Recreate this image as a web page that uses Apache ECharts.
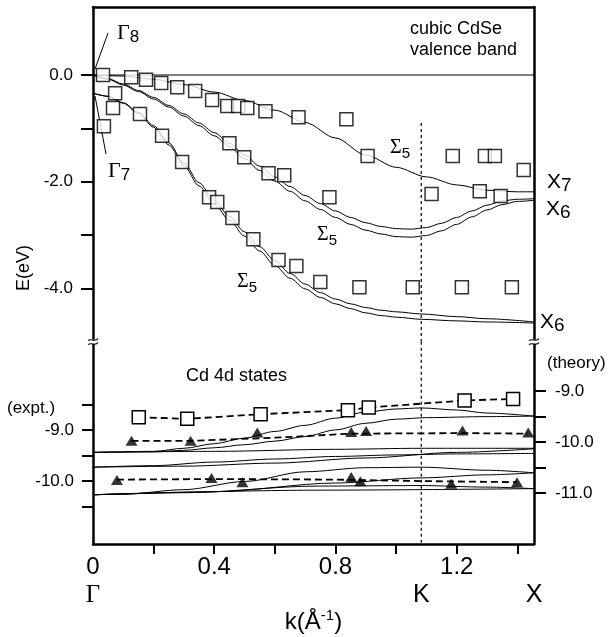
<!DOCTYPE html>
<html><head><meta charset="utf-8">
<script src="https://cdn.jsdelivr.net/npm/echarts@6/dist/echarts.min.js"></script>
<style>html,body{margin:0;padding:0;background:#fff}#c{width:612px;height:637px}</style>
</head><body><div id="c"></div>
<script>
// ---------- axis ranges / ticks ----------
const K_MAX = 1.455;             // X point
const K_K = 1.083;               // K point
const xTickValues = [0.2, 0.4, 0.6, 0.8, 1.0, 1.2, 1.4];
const xLabelValues = [0, 0.4, 0.8, 1.2];
const symPointK = [0, K_K, K_MAX];
const symPointNames = ['Γ', 'K', 'X'];
const yTopRange = [-5.0, 1.275];
const yTopTicks = [0, -1, -2, -3, -4];
const yTopLabels = [0, -2, -4];
const yExptRange = [-11.231, -7.270];
const yExptTicks = [-8.5, -9, -9.5, -10, -10.5];
const yExptLabels = [-9, -10];
const yTheoRange = [-11.994, -8.033];
const yTheoTicks = [-9, -9.5, -10, -10.5, -11];
const yTheoLabels = [-9, -10, -11];

// ---------- valence band theory (k, E) ----------
const bandHH = [[0,0],[0.1,-0.02],[0.2,-0.08],[0.3,-0.18],[0.4,-0.32],[0.5,-0.48],[0.6,-0.66],[0.7,-0.89],[0.8,-1.18],[0.9,-1.50],[1.0,-1.73],[1.1,-1.91],[1.2,-2.06],[1.3,-2.16],[1.4,-2.19],[1.455,-2.19]];
const bandLH1 = [[0,0],[0.05,-0.07],[0.1,-0.17],[0.15,-0.29],[0.2,-0.42],[0.25,-0.57],[0.3,-0.73],[0.35,-0.90],[0.4,-1.08],[0.45,-1.28],[0.5,-1.50],[0.55,-1.71],[0.6,-1.91],[0.65,-2.09],[0.7,-2.26],[0.75,-2.41],[0.8,-2.55],[0.85,-2.67],[0.9,-2.77],[0.95,-2.84],[1.0,-2.88],[1.05,-2.89],[1.1,-2.86],[1.15,-2.78],[1.2,-2.67],[1.25,-2.55],[1.3,-2.44],[1.35,-2.36],[1.4,-2.33],[1.455,-2.32]];
const bandLH2 = [[0,0],[0.05,-0.08],[0.1,-0.19],[0.15,-0.31],[0.2,-0.45],[0.25,-0.60],[0.3,-0.77],[0.35,-0.95],[0.4,-1.14],[0.45,-1.34],[0.5,-1.57],[0.55,-1.79],[0.6,-1.99],[0.65,-2.18],[0.7,-2.36],[0.75,-2.52],[0.8,-2.67],[0.85,-2.80],[0.9,-2.91],[0.95,-2.98],[1.0,-3.03],[1.05,-3.04],[1.1,-3.01],[1.15,-2.92],[1.2,-2.80],[1.25,-2.66],[1.3,-2.53],[1.35,-2.43],[1.4,-2.37],[1.455,-2.35]];
const bandSO1 = [[0,-0.34],[0.05,-0.40],[0.1,-0.52],[0.15,-0.70],[0.2,-0.95],[0.25,-1.27],[0.3,-1.65],[0.35,-2.02],[0.4,-2.35],[0.45,-2.65],[0.5,-2.94],[0.55,-3.22],[0.6,-3.48],[0.65,-3.72],[0.7,-3.92],[0.75,-4.08],[0.8,-4.20],[0.85,-4.29],[0.9,-4.36],[0.95,-4.41],[1.0,-4.44],[1.083,-4.48],[1.2,-4.53],[1.3,-4.57],[1.455,-4.63]];
const bandSO2 = [[0,-0.34],[0.05,-0.40],[0.1,-0.53],[0.15,-0.72],[0.2,-0.98],[0.25,-1.31],[0.3,-1.70],[0.35,-2.08],[0.4,-2.42],[0.45,-2.72],[0.5,-3.02],[0.55,-3.30],[0.6,-3.57],[0.65,-3.81],[0.7,-4.01],[0.75,-4.17],[0.8,-4.29],[0.85,-4.38],[0.9,-4.46],[0.95,-4.51],[1.0,-4.54],[1.083,-4.58],[1.2,-4.61],[1.3,-4.63],[1.455,-4.65]];
const zeroLine = [[0,0],[K_MAX,0]];
const kLineTop = [[K_K,-0.9],[K_K,-5.0]];

// ---------- valence band experiment ----------
const sqUpK = [0.033,0.073,0.066,0.036,0.126,0.175,0.225,0.278,0.337,0.393,0.443,0.479,0.509,0.569,0.678,0.836,0.906,1.187,1.293,1.326,1.421,0.155,0.228,0.294,0.383,0.410,0.460,0.529,0.612,0.671,0.750,0.879,1.055,1.217,1.382,0.450,0.499,0.579,0.631,0.780,1.117,1.276,1.345];
const sqUpE = [0.00,-0.34,-0.62,-0.96,-0.04,-0.09,-0.15,-0.23,-0.30,-0.47,-0.58,-0.58,-0.62,-0.68,-0.79,-0.83,-1.52,-1.52,-1.52,-1.52,-1.78,-0.73,-1.14,-1.63,-2.29,-2.38,-2.68,-3.08,-3.47,-3.58,-3.88,-3.98,-3.98,-3.98,-3.98,-1.28,-1.54,-1.84,-1.88,-2.29,-2.23,-2.18,-2.27];

// ---------- Cd 4d theory (theory axis) ----------
const dT1 = [[0,-10.20],[0.2,-10.18],[0.3,-10.12],[0.4,-10.03],[0.5,-9.92],[0.6,-9.79],[0.7,-9.67],[0.8,-9.53],[0.9,-9.41],[1.0,-9.35],[1.083,-9.33],[1.2,-9.37],[1.3,-9.43],[1.455,-9.49]];
const dT2 = [[0,-10.20],[0.2,-10.19],[0.3,-10.16],[0.4,-10.11],[0.5,-10.05],[0.6,-9.98],[0.7,-9.89],[0.8,-9.76],[0.9,-9.63],[1.0,-9.55],[1.1,-9.52],[1.3,-9.50],[1.455,-9.49]];
const dF1 = [[0,-10.20],[0.4,-10.18],[0.8,-10.14],[1.083,-10.12],[1.455,-10.12]];
const dF2 = [[0,-10.49],[0.2,-10.46],[0.4,-10.39],[0.6,-10.33],[0.8,-10.28],[1.0,-10.25],[1.2,-10.23],[1.455,-10.22]];
const dF3 = [[0,-10.49],[0.3,-10.47],[0.6,-10.41],[0.9,-10.31],[1.2,-10.20],[1.455,-10.13]];
const dB1 = [[0,-11.03],[0.1,-11.02],[0.3,-10.93],[0.5,-10.77],[0.7,-10.58],[0.9,-10.50],[1.083,-10.49],[1.3,-10.55],[1.455,-10.60]];
const dB4 = [[0,-11.03],[0.4,-10.97],[0.8,-10.80],[1.083,-10.70],[1.3,-10.64],[1.455,-10.60]];
const dB2 = [[0,-11.03],[0.3,-10.99],[0.74,-10.86],[1.083,-10.85],[1.3,-10.88],[1.455,-10.91]];
const dB3 = [[0,-11.03],[0.74,-10.94],[1.455,-10.91]];

// ---------- Cd 4d experiment (expt axis) ----------
const sqLoK = [0.151,0.311,0.553,0.841,0.910,1.226,1.386];
const sqLoE = [-8.75,-8.78,-8.69,-8.61,-8.56,-8.42,-8.39];
const triUpK = [0.127,0.322,0.542,0.852,0.901,1.219,1.436];
const triUpE = [-9.21,-9.21,-9.05,-9.04,-9.02,-9.01,-9.05];
const triUpGuide = [[0.127,-9.21],[0.322,-9.21],[0.60,-9.15],[0.852,-9.07],[1.219,-9.06],[1.436,-9.07]];
const triLoK = [0.079,0.391,0.493,0.852,0.882,1.182,1.399];
const triLoE = [-9.98,-9.94,-10.02,-9.92,-10.00,-10.05,-10.02];
const triLoGuide = [[0.079,-9.97],[0.40,-9.96],[0.80,-9.97],[1.10,-10.0],[1.399,-10.02]];
const kLineBottom = [[K_K,yExptRange[1]],[K_K,yExptRange[0]]];

const zip = (a,b) => a.map((v,i)=>[v,b[i]]);
const SANS = 'Liberation Sans', SERIF = 'Liberation Serif';
function curve(data, xi, yi) {
  return {type:'line', xAxisIndex:xi, yAxisIndex:yi, data, symbol:'none', showSymbol:false,
    smooth:0.3, smoothMonotone:'x', lineStyle:{color:'#000', width:1}, silent:true, z:2};
}
function plain(data, xi, yi, type, width) {
  return {type:'line', xAxisIndex:xi, yAxisIndex:yi, data, symbol:'none', showSymbol:false,
    lineStyle:{color:'#000', width:width, type:type}, silent:true, z:3};
}
const thick = {onZero:false, lineStyle:{color:'#000', width:2.5}};

function subLabel(x, y, main, sub, mainFont, mainSize, subSize, drop) {
  const L = 26;
  return {type:'text', x:x, y:y, silent:true, style:{
    text:'{m|'+main+'}{s|'+sub+'}', align:'left', verticalAlign:'middle', textAlign:'left', textVerticalAlign:'middle',
    rich:{ m:{fontFamily:mainFont, fontSize:mainSize, lineHeight:L, fill:'#000'},
           s:{fontFamily:SANS, fontSize:subSize, lineHeight:L-2*drop, verticalAlign:'bottom', fill:'#000'} } }};
}
function txt(x, y, t, size, align, family, rot) {
  return {type:'text', x:x, y:y, rotation:rot||0, silent:true, style:{text:t, fontSize:size, fontFamily:family||SANS, fill:'#000',
    align:align||'left', textAlign:align||'left', verticalAlign:'middle', textVerticalAlign:'middle'}};
}
function brk(x, y) {
  return [
    {type:'rect', shape:{x:x-3, y:y-2, width:6, height:4}, style:{fill:'#fff'}, silent:true, z:100},
    {type:'bezierCurve', shape:{x1:x-5, y1:y-1, cpx1:x-2, cpy1:y-4, cpx2:x+2, cpy2:y+1, x2:x+5, y2:y-3}, style:{stroke:'#000', lineWidth:1.2, fill:null}, silent:true, z:101},
    {type:'bezierCurve', shape:{x1:x-5, y1:y+3, cpx1:x-2, cpy1:y, cpx2:x+2, cpy2:y+5, x2:x+5, y2:y+1}, style:{stroke:'#000', lineWidth:1.2, fill:null}, silent:true, z:101}
  ];
}

const option = {
  animation:false, backgroundColor:'#fff',
  textStyle:{fontFamily:SANS, color:'#000'},
  grid:[{left:93, top:7, width:441, height:334.7}, {left:93, top:341.7, width:441, height:211.3}],
  xAxis:[
    {gridIndex:0, type:'value', min:0, max:K_MAX, position:'top', axisLine:thick, axisTick:{show:false}, axisLabel:{show:false}, splitLine:{show:false}},
    {gridIndex:1, type:'value', min:0, max:K_MAX, position:'bottom', axisLine:thick,
      axisTick:{show:true, length:10, lineStyle:{color:'#000', width:2}, customValues:xTickValues},
      axisLabel:{customValues:xLabelValues, formatter:v => v === 0 ? '0' : v.toFixed(1), fontSize:24, color:'#000', margin:11},
      splitLine:{show:false},
      name:'k(Å{s|-1})', nameLocation:'middle', nameGap:64,
      nameTextStyle:{fontSize:24, color:'#000', lineHeight:28, rich:{s:{fontSize:15, lineHeight:12, verticalAlign:'top', color:'#000'}}}},
    {gridIndex:1, type:'value', min:0, max:K_MAX, position:'bottom', axisLine:{show:false}, axisTick:{show:false}, splitLine:{show:false},
      axisLabel:{customValues:symPointK, margin:39, color:'#000',
        formatter:v => { const i = symPointK.findIndex(p => Math.abs(p - v) < 1e-6); return i === 0 ? '{g|' + symPointNames[0] + '}' : '{r|' + symPointNames[i] + '}'; },
        rich:{g:{fontFamily:SERIF, fontSize:25, color:'#000'}, r:{fontFamily:SANS, fontSize:25, color:'#000'}}}}
  ],
  yAxis:[
    {gridIndex:0, type:'value', min:yTopRange[0], max:yTopRange[1], position:'left', axisLine:thick,
      axisTick:{length:12, lineStyle:{color:'#000', width:2}, customValues:yTopTicks},
      axisLabel:{customValues:yTopLabels, formatter:v => v.toFixed(1), fontSize:17, margin:20, color:'#000'}, splitLine:{show:false}},
    {gridIndex:0, type:'value', min:yTopRange[0], max:yTopRange[1], position:'right', axisLine:thick, axisTick:{show:false}, axisLabel:{show:false}, splitLine:{show:false}},
    {gridIndex:1, type:'value', min:yExptRange[0], max:yExptRange[1], position:'left', axisLine:thick,
      axisTick:{length:11, lineStyle:{color:'#000', width:2}, customValues:yExptTicks},
      axisLabel:{customValues:yExptLabels, formatter:v => v.toFixed(1), fontSize:17, margin:19, color:'#000'}, splitLine:{show:false}},
    {gridIndex:1, type:'value', min:yTheoRange[0], max:yTheoRange[1], position:'right', axisLine:thick,
      axisTick:{length:12, lineStyle:{color:'#000', width:2}, customValues:yTheoTicks},
      axisLabel:{customValues:yTheoLabels, formatter:v => v.toFixed(1), fontSize:17, margin:21, color:'#000'}, splitLine:{show:false}}
  ],
  series:[
    plain(zeroLine, 0, 0, 'solid', 1),
    curve(bandHH, 0, 0), curve(bandLH1, 0, 0), curve(bandLH2, 0, 0), curve(bandSO1, 0, 0), curve(bandSO2, 0, 0),
    plain(kLineTop, 0, 0, [3,3], 1.2),
    {type:'scatter', xAxisIndex:0, yAxisIndex:0, data:zip(sqUpK, sqUpE), symbol:'rect', symbolSize:13,
      itemStyle:{color:'#fff', borderColor:'#000', borderWidth:1.5}, z:5, silent:true},
    curve(dT1, 1, 3), curve(dT2, 1, 3), curve(dF1, 1, 3), curve(dF2, 1, 3), curve(dF3, 1, 3),
    curve(dB1, 1, 3), curve(dB4, 1, 3), curve(dB2, 1, 3), curve(dB3, 1, 3),
    plain(kLineBottom, 1, 2, [3,3], 1.2),
    plain(triUpGuide, 1, 2, [7,4], 1.8),
    plain(triLoGuide, 1, 2, [7,4], 1.8),
    {type:'line', xAxisIndex:1, yAxisIndex:2, data:zip(sqLoK, sqLoE), symbol:'rect', symbolSize:13, showSymbol:true,
      itemStyle:{color:'#fff', borderColor:'#000', borderWidth:1.5}, lineStyle:{color:'#000', width:1.8, type:[7,4]}, z:5, silent:true},
    {type:'scatter', xAxisIndex:1, yAxisIndex:2, data:zip(triUpK, triUpE), symbol:'triangle', symbolSize:[12,10], itemStyle:{color:'#000'}, z:6, silent:true},
    {type:'scatter', xAxisIndex:1, yAxisIndex:2, data:zip(triLoK, triLoE), symbol:'triangle', symbolSize:[12,10], itemStyle:{color:'#000'}, z:6, silent:true}
  ],
  graphic:[
    txt(410, 29, 'cubic CdSe', 18),
    txt(410, 50, 'valence band', 18),
    txt(186, 376, 'Cd 4d states', 18),
    txt(7, 408, '(expt.)', 17),
    txt(547, 363, '(theory)', 17),
    txt(24, 268, 'E(eV)', 18, 'center', SANS, Math.PI/2),
    subLabel(117, 33, 'Γ', '8', SERIF, 22, 17, 5),
    subLabel(108, 171, 'Γ', '7', SERIF, 22, 17, 5),
    subLabel(390, 148, 'Σ', '5', SERIF, 20, 15, 4),
    subLabel(317, 235, 'Σ', '5', SERIF, 20, 15, 4),
    subLabel(237, 282, 'Σ', '5', SERIF, 20, 15, 4),
    subLabel(547, 182, 'X', '7', SANS, 21, 19, 5),
    subLabel(546, 209, 'X', '6', SANS, 21, 19, 5),
    subLabel(540, 322, 'X', '6', SANS, 21, 19, 5),
    {type:'line', shape:{x1:108, y1:33, x2:95, y2:69}, style:{stroke:'#000', lineWidth:1}, silent:true},
    {type:'line', shape:{x1:106, y1:154, x2:95, y2:96}, style:{stroke:'#000', lineWidth:1}, silent:true},
    ...brk(93, 341.7), ...brk(534, 341.7)
  ]
};
const chart = echarts.init(document.getElementById('c'), null, {renderer:'canvas'});
chart.setOption(option);
</script></body></html>
